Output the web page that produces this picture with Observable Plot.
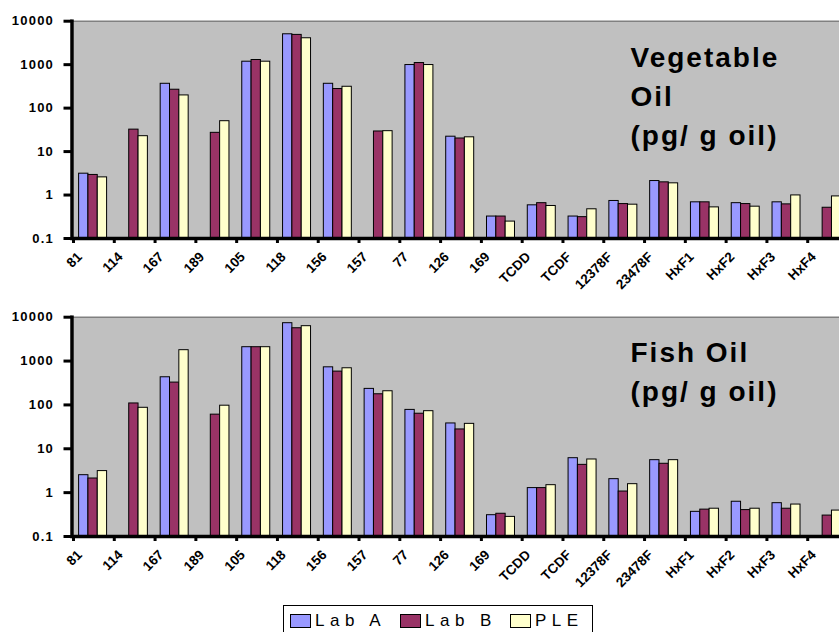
<!DOCTYPE html>
<html><head><meta charset="utf-8">
<script src="https://cdn.jsdelivr.net/npm/d3@7"></script>
<script src="https://cdn.jsdelivr.net/npm/@observablehq/plot@0.6"></script>
<style>
body{margin:0;background:#fff;width:839px;height:632px;overflow:hidden;position:relative;font-family:"Liberation Sans",Arial,sans-serif;}
.panel{position:absolute;left:0;width:839px;height:300px;overflow:hidden;}
.panel svg{max-width:none !important;}
.xl{position:absolute;left:0;top:0;white-space:nowrap;font-weight:bold;font-size:13.5px;line-height:13.5px;color:#000;transform-origin:0 0;}
#legend{position:absolute;left:283px;top:605px;width:310px;height:34px;border:1px solid #000;box-sizing:border-box;background:#fff;}
.sw{position:absolute;top:8px;width:19px;height:12px;border:1px solid #000;}
.lt{position:absolute;top:5px;font-size:17px;letter-spacing:5.5px;line-height:20px;color:#000;white-space:nowrap;}
</style></head>
<body>
<div id="top" class="panel" style="top:0"></div>
<div id="bottom" class="panel" style="top:300px"></div>
<div id="legend"></div>
<script>
const categories = ["81","114","167","189","105","118","156","157","77","126","169","TCDD","TCDF","12378F","23478F","HxF1","HxF2","HxF3","HxF4"];
const series = ["Lab A","Lab B","PLE"];
const seriesColors = ["#9999ff","#993366","#ffffcc"];
const yTicks = [0.1, 1, 10, 100, 1000, 10000];

// Vegetable oil (pg/g oil)
const vegLabA = [3.1, null, 363, null, 1170, 5000, 363, null, 980, 22, 0.32, 0.58, 0.32, 0.73, 2.1, 0.68, 0.65, 0.68, null];
const vegLabB = [2.9, 32, 265, 27, 1280, 4840, 275, 29, 1090, 20, 0.32, 0.65, 0.31, 0.62, 1.96, 0.68, 0.62, 0.61, 0.51];
const vegPLE  = [2.55, 22.6, 196, 50, 1170, 4050, 310, 29.5, 980, 21.3, 0.245, 0.56, 0.47, 0.60, 1.86, 0.52, 0.54, 0.98, 0.93];

// Fish oil (pg/g oil)
const fishLabA = [2.5, null, 427, null, 2070, 7300, 720, 232, 77, 37.8, 0.306, 1.27, 6.1, 2.03, 5.5, 0.365, 0.62, 0.575, null];
const fishLabB = [2.1, 108, 323, 60, 2070, 5600, 575, 175, 63, 27.6, 0.33, 1.27, 4.3, 1.06, 4.55, 0.41, 0.40, 0.43, 0.30];
const fishPLE  = [3.1, 86, 1770, 96, 2070, 6240, 685, 205, 72, 37, 0.28, 1.48, 5.7, 1.56, 5.5, 0.43, 0.43, 0.535, 0.39];

const W = 850, H = 300, mL = 73, mR = 2;
const bw = (W - mL - mR) / categories.length;
const barOffset = 5.6, barW = 9.33;
const yTickStrings = yTicks.map(String);

function rows(arrs) {
  const out = [];
  series.forEach((s, k) => arrs[k].forEach((v, i) => { if (v != null) out.push({category: categories[i], series: s, value: v}); }));
  return out;
}

function drawPanel(el, arrs, annot, mTop, mBottom, annotDy) {
  const data = rows(arrs);
  const frameH = H - mTop - mBottom;
  const bars = series.map((s, k) => Plot.barY(data.filter(d => d.series === s), {
    x: "category", y1: 0.1, y2: "value", fill: "series",
    stroke: "#000", strokeWidth: 1,
    insetLeft: barOffset + k * barW,
    insetRight: bw - barOffset - (k + 1) * barW
  }));
  const chart = Plot.plot({
    width: W, height: H,
    marginLeft: mL, marginRight: mR, marginTop: mTop, marginBottom: mBottom,
    style: {fontFamily: "'Liberation Sans', Arial, sans-serif", background: "#fff", overflow: "visible", maxWidth: "none"},
    x: {type: "band", domain: categories, padding: 0, round: false, axis: null},
    y: {type: "log", domain: [0.1, 10000], axis: null},
    color: {domain: series, range: seriesColors},
    marks: [
      Plot.frame({fill: "#c0c0c0", stroke: "none"}),
      Plot.frame({anchor: "top", stroke: "#808080", strokeWidth: 1.5}),
      ...bars,
      // category boundary tick marks below the baseline
      Plot.ruleX(categories, {x: d => d, dx: -bw / 2, dy: 5, insetTop: frameH - 5, stroke: "#000", strokeWidth: 3}),
      Plot.ruleY([0.1], {stroke: "#000", strokeWidth: 3.5}),
      Plot.frame({anchor: "left", stroke: "#000", strokeWidth: 3.5, dx: -1.5}),
      Plot.axisY({ticks: yTicks, tickFormat: d => String(d), label: null, tickSize: 8, tickPadding: 10, strokeWidth: 3, fontSize: 13, fontWeight: "bold", dx: -1.5}),
      Plot.text([annot], {frameAnchor: "top-left", text: d => d, dx: 557, dy: annotDy, fontSize: 28, fontWeight: "bold", lineHeight: 1.4, lineAnchor: "top", textAnchor: "start"})
    ]
  });
  const svg = d3.select(chart.tagName === "svg" ? chart : chart.querySelector("svg"));
  svg.selectAll("text").each(function() {
    const t = this.textContent;
    const sel = d3.select(this);
    if (yTickStrings.includes(t)) {
      sel.attr("letter-spacing", "1.2px");
    } else if (this.querySelector("tspan")) {
      sel.attr("letter-spacing", "2px");
    }
  });
  el.appendChild(chart);

  // rotated category labels, placed with the chart's own x scale
  const xs = chart.scale("x");
  const baseY = H - mBottom + 20;
  categories.forEach(c => {
    const ax = xs.apply(c) + 10;
    const lab = document.createElement("div");
    lab.className = "xl";
    lab.textContent = c;
    lab.style.transform = `translate(${ax}px, ${baseY}px) rotate(-45deg) translate(-100%, -11.4px)`;
    el.appendChild(lab);
  });
}

drawPanel(document.getElementById("top"), [vegLabA, vegLabB, vegPLE], "Vegetable\nOil\n(pg/ g oil)", 20.7, 62, 18);
drawPanel(document.getElementById("bottom"), [fishLabA, fishLabB, fishPLE], "Fish Oil\n(pg/ g oil)", 16.7, 64, 17);

// legend
const legend = document.getElementById("legend");
const swLeft = [6, 116, 226], txLeft = [31, 141, 251];
series.forEach((s, k) => {
  const sw = document.createElement("div");
  sw.className = "sw"; sw.style.left = swLeft[k] + "px"; sw.style.background = seriesColors[k];
  legend.appendChild(sw);
  const t = document.createElement("div");
  t.className = "lt"; t.style.left = txLeft[k] + "px"; t.textContent = s;
  legend.appendChild(t);
});
</script>
</body></html>
